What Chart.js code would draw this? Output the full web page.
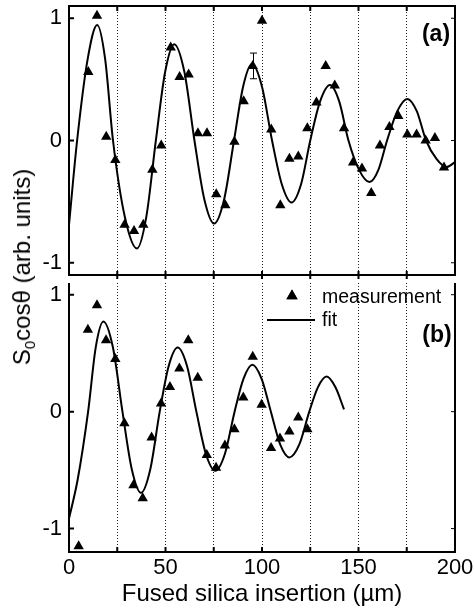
<!DOCTYPE html>
<html>
<head>
<meta charset="utf-8">
<script src="https://cdn.jsdelivr.net/npm/chart.js@4.4.1/dist/chart.umd.min.js"></script>
<style>
  html, body { margin: 0; padding: 0; background: #fff; }
  #wrap { position: relative; width: 474px; height: 614px; font-family: "Liberation Sans", Arial, sans-serif; color: #000; overflow: hidden; }
  #chartA { position: absolute; left: 0; top: 0; }
  #chartB { position: absolute; left: 0; top: 276px; }
  .lbl { position: absolute; white-space: nowrap; line-height: 1; }
  .panel { font-weight: bold; font-size: 23px; transform: translate(-50%, -50%); }
  .leg { font-size: 19.5px; transform: translateY(-50%); }
  #ytitle { left: 22px; top: 267px; font-size: 24px; transform: translate(-50%, -50%) rotate(-90deg); }
  #ytitle sub { font-size: 15px; vertical-align: -0.35em; line-height: 0; }
</style>
</head>
<body>
<div id="wrap">
  <canvas id="chartA" width="474" height="290"></canvas>
  <canvas id="chartB" width="474" height="338"></canvas>
  <div class="lbl panel" style="left:436px; top:33px;">(a)</div>
  <div class="lbl panel" style="left:437px; top:334px;">(b)</div>
  <div class="lbl leg" style="left:322px; top:297px;">measurement</div>
  <div class="lbl leg" style="left:322px; top:320px;">fit</div>
  <div id="ytitle" class="lbl">S<sub>0</sub>cosθ (arb. units)</div>
</div>
<script>
// ── Données ────────────────────────────────────────────────
const xTicks = [0, 25, 50, 75, 100, 125, 150, 175, 200];
const yTicks = [-1, 0, 1];

// (a) mesures
const measAx = [10.0, 14.5, 19.3, 24.0, 28.8, 33.7, 38.5, 43.2, 47.8, 52.7, 57.3, 62.0, 66.8, 71.5, 76.3, 81.0, 85.7, 90.5, 95.2, 100.0,
                104.8, 109.5, 114.2, 118.8, 123.5, 128.2, 133.0, 137.7, 142.5, 147.2, 151.8, 156.6, 161.1, 166.0, 170.6, 175.3, 180.1, 184.8, 189.6, 194.3];
const measAy = [0.56, 1.02, 0.03, -0.16, -0.69, -0.74, -0.69, -0.24, -0.04, 0.76, 0.52, 0.54, 0.06, 0.06, -0.44, -0.53, -0.01, 0.32, 0.61, 0.98,
                0.09, -0.53, -0.15, -0.13, 0.10, 0.31, 0.61, 0.45, 0.10, -0.18, -0.23, -0.43, -0.04, 0.11, 0.20, 0.05, 0.05, 0.00, 0.02, -0.22];
// (a) ajustement (points relevés le long de la courbe)
const fitAx = [0, 4.2, 9.6, 14.6, 18.7, 22.8, 29.0, 35.2, 40.1, 45.0, 49.8, 54.5, 59.8, 65.0, 70.1, 75.2, 80.4, 85.5, 90.2, 94.8,
               100.0, 105.2, 110.3, 115.3, 120.2, 125.0, 130.1, 135.2, 140.0, 144.8, 150.3, 155.7, 160.3, 164.8, 170.1, 175.3, 180.2, 185.0, 190.4, 195.7, 200];
const fitAy = [-0.69, 0, 0.66, 0.945, 0.67, 0, -0.63, -0.883, -0.62, 0, 0.56, 0.788, 0.56, 0, -0.48, -0.679, -0.48, 0, 0.44, 0.625,
               0.44, 0, -0.36, -0.507, -0.36, 0, 0.32, 0.454, 0.32, 0, -0.24, -0.34, -0.24, 0, 0.24, 0.34, 0.24, 0, -0.15, -0.217, -0.177];
// (a) barre d'erreur
const errAx = [95.2];
const errAy = [0.61];
const errAd = [0.105];

// (b) mesures
const measBx = [5.0, 9.8, 14.5, 19.2, 24.0, 28.7, 33.4, 38.2, 42.8, 47.7, 52.3, 57.2, 61.8, 66.7, 71.4, 76.2, 80.8, 85.7, 90.3, 95.2,
                99.8, 104.7, 109.3, 114.2, 118.8, 123.5];
const measBy = [-1.15, 0.70, 0.91, 0.61, 0.45, -0.10, -0.63, -0.74, -0.22, 0.07, 0.21, 0.37, 0.61, 0.29, -0.37, -0.48, -0.29, -0.15, 0.12, 0.47,
                0.06, -0.31, -0.23, -0.17, -0.05, -0.15];
// (b) ajustement
const fitBx = [0, 4.5, 9.9, 13.85, 17.8, 22.75, 27.7, 32.5, 37.3, 42.15, 47.0, 51.65, 56.3, 61.15, 66.0, 70.9, 75.8, 80.8, 85.8, 90.4,
               95.0, 99.8, 104.6, 109.4, 114.2, 119.35, 124.5, 129.0, 133.5, 138.0, 142.5];
const fitBy = [-0.914, -0.58, 0, 0.55, 0.771, 0.55, 0, -0.49, -0.694, -0.49, 0, 0.39, 0.548, 0.39, 0, -0.36, -0.506, -0.36, 0, 0.28,
               0.40, 0.28, 0, -0.28, -0.391, -0.28, 0, 0.21, 0.30, 0.21, 0.02];

const pts = (xs, ys) => xs.map((x, i) => ({ x: x, y: ys[i] }));

// ── Cadre + graduations vers l'intérieur ─────────────────
const framePlugin = {
    id: 'frame',
    afterDatasetsDraw(chart, args, opts) {
        const { ctx, chartArea: a, scales: { x, y } } = chart;
        ctx.save();
        ctx.strokeStyle = '#000';
        ctx.lineWidth = 2;
        ctx.beginPath();
        if (opts.top) { ctx.moveTo(a.left - 1, a.top); ctx.lineTo(a.right + 1, a.top); }
        ctx.moveTo(a.left, a.top); ctx.lineTo(a.left, a.bottom);
        ctx.moveTo(a.right, a.top); ctx.lineTo(a.right, a.bottom);
        ctx.moveTo(a.left - 1, a.bottom); ctx.lineTo(a.right + 1, a.bottom);
        ctx.stroke();

        ctx.beginPath();
        xTicks.slice(1, -1).forEach(v => {
            const px = x.getPixelForValue(v);
            if (opts.top) { ctx.moveTo(px, a.top); ctx.lineTo(px, a.top + 5); }
            ctx.moveTo(px, a.bottom - (opts.top ? 4 : 5)); ctx.lineTo(px, a.bottom + (opts.top ? 4 : 0));
        });
        yTicks.forEach(v => {
            const py = y.getPixelForValue(v);
            ctx.moveTo(a.left, py); ctx.lineTo(a.left + 5, py);
        });
        ctx.stroke();
        ctx.lineWidth = 1;
        ctx.beginPath();
        yTicks.forEach(v => {
            const py = y.getPixelForValue(v);
            ctx.moveTo(a.right, py); ctx.lineTo(a.right - 4, py);
        });
        ctx.stroke();
        ctx.restore();
    }
};

// ── Barre d'erreur ───────────────────────────────────────
const errorPlugin = {
    id: 'errbar',
    afterDatasetsDraw(chart, args, opts) {
        if (!opts.xs) return;
        const { ctx, scales: { x, y } } = chart;
        ctx.save();
        ctx.strokeStyle = '#000';
        ctx.lineWidth = 1;
        ctx.beginPath();
        opts.xs.forEach((v, i) => {
            const px = Math.round(x.getPixelForValue(v)) + 0.5;
            const hi = y.getPixelForValue(opts.ys[i] + opts.ds[i]);
            const lo = y.getPixelForValue(opts.ys[i] - opts.ds[i]);
            ctx.moveTo(px, hi); ctx.lineTo(px, lo);
            ctx.moveTo(px - 3.5, hi); ctx.lineTo(px + 3.5, hi);
            ctx.moveTo(px - 3.5, lo); ctx.lineTo(px + 3.5, lo);
        });
        ctx.stroke();
        ctx.restore();
    }
};

// ── Symboles de légende (b) ──────────────────────────────
const legendPlugin = {
    id: 'legendSym',
    afterDraw(chart, args, opts) {
        if (!opts.show) return;
        const { ctx, chartArea: a } = chart;
        ctx.save();
        ctx.fillStyle = '#000';
        Chart.helpers.drawPoint(ctx, { pointStyle: 'triangle', radius: 6.5, borderWidth: 0 }, a.left + 223, a.top + 13);
        ctx.fill();
        ctx.strokeStyle = '#000';
        ctx.lineWidth = 2;
        ctx.beginPath();
        ctx.moveTo(a.left + 198, a.top + 37);
        ctx.lineTo(a.left + 246, a.top + 37);
        ctx.stroke();
        ctx.restore();
    }
};

const FONT = "'Liberation Sans', Arial, sans-serif";

function makeChart(el, meas, fit, yMin, yMax, isTop) {
    return new Chart(el, {
        type: 'scatter',
        data: {
            datasets: [{
                label: 'measurement',
                data: meas,
                pointStyle: 'triangle',
                pointRadius: 6,
                backgroundColor: '#000',
                borderWidth: 0,
                showLine: false
            }, {
                label: 'fit',
                data: fit,
                showLine: true,
                borderColor: '#000',
                borderWidth: 2,
                pointRadius: 0,
                cubicInterpolationMode: 'monotone',
                fill: false
            }]
        },
        options: {
            responsive: false,
            animation: false,
            layout: { padding: isTop ? { left: 0, right: 19, top: 5, bottom: 15 } : { left: 0, right: 19, top: 7, bottom: 0 } },
            plugins: {
                legend: { display: false },
                tooltip: { enabled: false },
                frame: { top: isTop },
                errbar: isTop ? { xs: errAx, ys: errAy, ds: errAd } : {},
                legendSym: { show: !isTop }
            },
            scales: {
                x: {
                    type: 'linear',
                    min: 0, max: 200,
                    afterBuildTicks: ax => { ax.ticks = xTicks.map(v => ({ value: v })); },
                    afterFit: ax => { ax.height = isTop ? 0 : 62; ax.paddingLeft = 0; ax.paddingRight = 0; },
                    grid: {
                        drawTicks: false,
                        color: c => (c.tick && (c.tick.value === 0 || c.tick.value === 200)) ? 'rgba(0,0,0,0)' : '#222',
                        lineWidth: 1
                    },
                    border: { display: false, dash: [1, 2] },
                    ticks: {
                        display: !isTop,
                        padding: 3,
                        color: '#000',
                        font: { family: FONT, size: 22 },
                        callback: v => (v % 50 === 0 ? String(v) : '')
                    },
                    title: {
                        display: !isTop,
                        text: 'Fused silica insertion (µm)',
                        color: '#000',
                        font: { family: FONT, size: 24 },
                        padding: { top: 0, bottom: 5 }
                    }
                },
                y: {
                    type: 'linear',
                    min: yMin, max: yMax,
                    afterBuildTicks: ax => { ax.ticks = yTicks.map(v => ({ value: v })); },
                    afterFit: ax => { ax.width = 69; ax.paddingTop = 0; ax.paddingBottom = 0; },
                    grid: { display: false, drawTicks: false },
                    border: { display: false },
                    ticks: {
                        padding: 7,
                        color: '#000',
                        font: { family: FONT, size: 22 },
                        callback: v => (v < 0 ? '-' + Math.abs(v) : String(v))
                    }
                }
            }
        },
        plugins: [framePlugin, errorPlugin, legendPlugin]
    });
}

makeChart(document.getElementById('chartA'), pts(measAx, measAy), pts(fitAx, fitAy), -1.1, 1.1, true);
makeChart(document.getElementById('chartB'), pts(measBx, measBy), pts(fitBx, fitBy), -1.2, 1.1, false);
</script>
</body>
</html>
